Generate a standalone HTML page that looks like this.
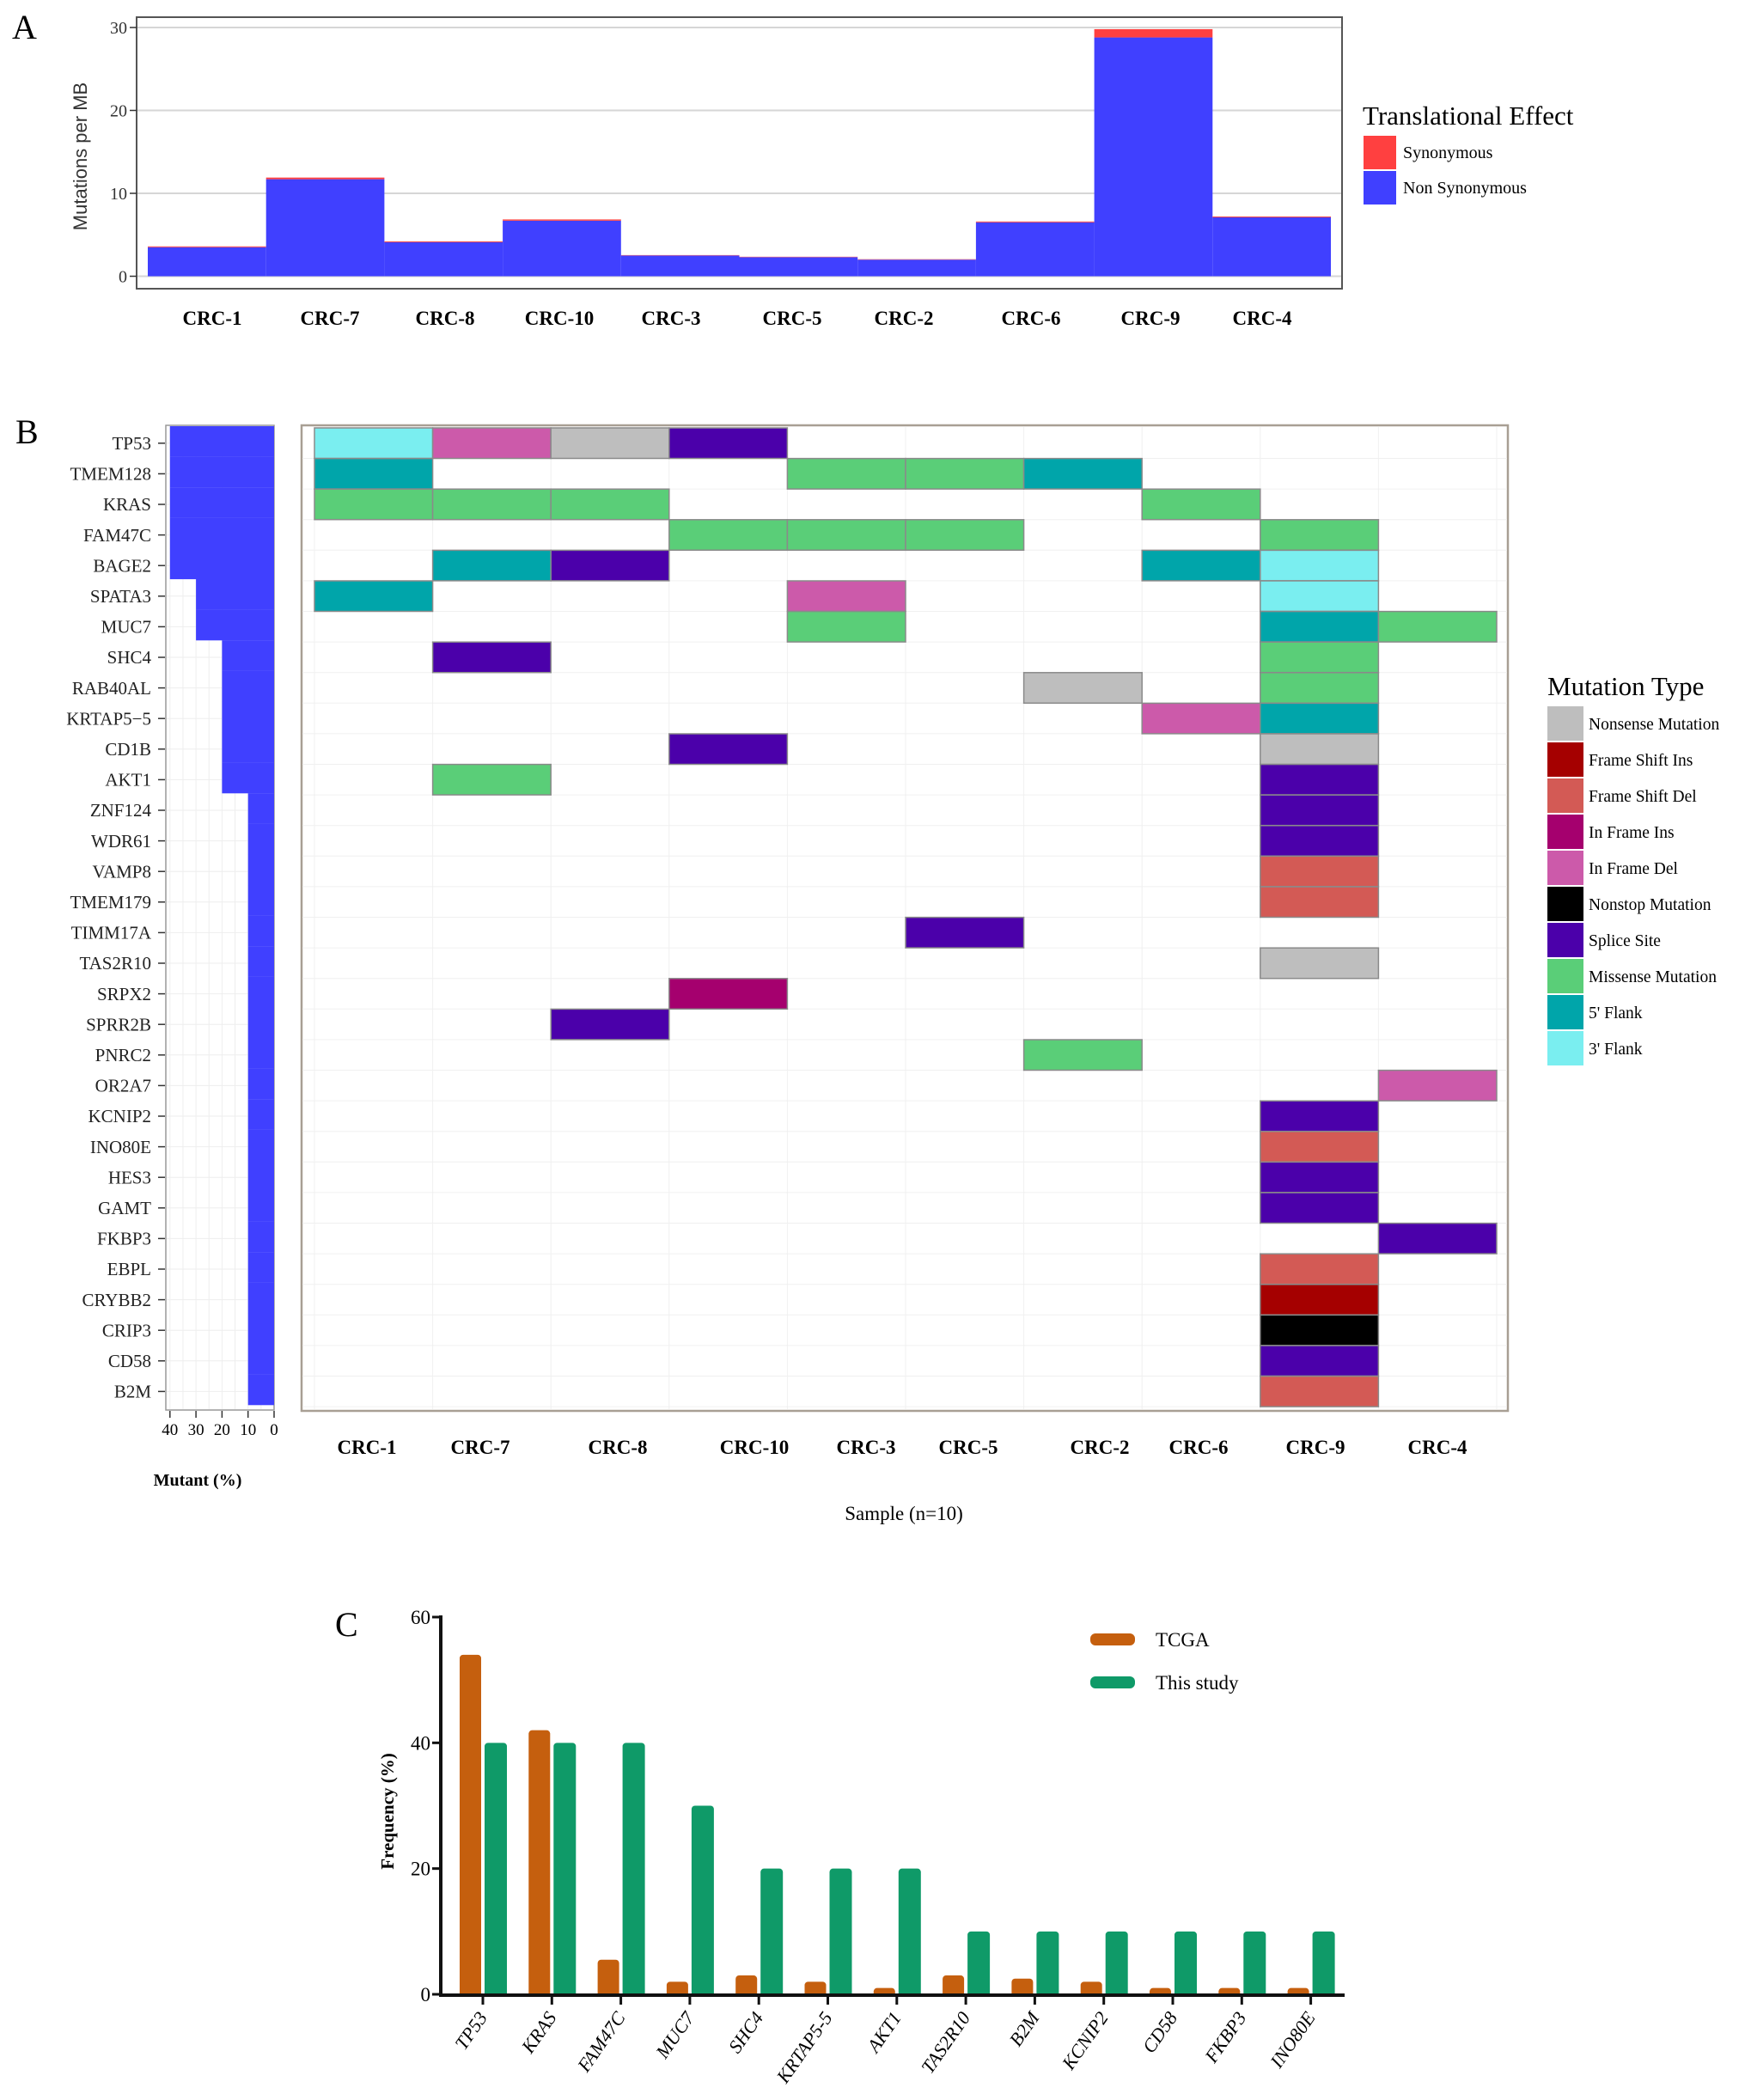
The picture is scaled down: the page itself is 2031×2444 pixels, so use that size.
<!DOCTYPE html>
<html><head><meta charset="utf-8"><style>
html,body{margin:0;padding:0;background:#fff;}
svg{display:block;font-family:"Liberation Serif",serif;}
</style></head><body>
<svg id="fig" width="2031" height="2444" viewBox="0 0 2031 2444" xmlns="http://www.w3.org/2000/svg">
<g id="pa"></g>
<g id="pb"></g>
<g id="pc"></g>
</svg>
<script>
// ---- Panel A data
const samplesA = ["CRC-1","CRC-7","CRC-8","CRC-10","CRC-3","CRC-5","CRC-2","CRC-6","CRC-9","CRC-4"];
const nonSyn = [3.5,11.7,4.1,6.7,2.5,2.3,2.0,6.5,28.8,7.1];
const syn = [0.1,0.2,0.1,0.15,0.05,0.05,0.05,0.1,1.0,0.1];
const ticksA = [0,10,20,30];
// ---- Panel B data
const genes = ["TP53","TMEM128","KRAS","FAM47C","BAGE2","SPATA3","MUC7","SHC4","RAB40AL","KRTAP5\u22125","CD1B","AKT1","ZNF124","WDR61","VAMP8","TMEM179","TIMM17A","TAS2R10","SRPX2","SPRR2B","PNRC2","OR2A7","KCNIP2","INO80E","HES3","GAMT","FKBP3","EBPL","CRYBB2","CRIP3","CD58","B2M"];
const mutantPct = [40,40,40,40,40,30,30,20,20,20,20,20,10,10,10,10,10,10,10,10,10,10,10,10,10,10,10,10,10,10,10,10];
const samplesB = ["CRC-1","CRC-7","CRC-8","CRC-10","CRC-3","CRC-5","CRC-2","CRC-6","CRC-9","CRC-4"];
const mutTypes = ["Nonsense Mutation","Frame Shift Ins","Frame Shift Del","In Frame Ins","In Frame Del","Nonstop Mutation","Splice Site","Missense Mutation","5' Flank","3' Flank"];
const mutColors = ["#bebebe","#a50000","#d35a55","#a5006e","#cc5aaa","#000000","#4b00aa","#5ace78","#00a5aa","#7aeef0"];
// each cell: [geneIndex, sampleIndex, typeIndex]
const cellGene =   [0,0,0,0, 1,1,1,1, 2,2,2,2, 3,3,3,3, 4,4,4,4, 5,5,5, 6,6,6, 7,7, 8,8, 9,9, 10,10, 11,11, 12,13,14,15,16,17,18,19,20,21,22,23,24,25,26,27,28,29,30,31];
const cellSample = [0,1,2,3, 0,4,5,6, 0,1,2,7, 3,4,5,8, 1,2,7,8, 0,4,8, 4,8,9, 1,8, 6,8, 7,8, 3,8, 1,8, 8,8,8,8,5,8,3,2,6,9,8,8,8,8,9,8,8,8,8,8];
const cellType =   [9,4,0,6, 8,7,7,8, 7,7,7,7, 7,7,7,7, 8,6,8,9, 8,4,9, 7,8,7, 6,7, 0,7, 4,8, 6,0, 7,6, 6,6,2,2,6,0,3,6,7,4,6,2,6,6,6,2,1,5,6,2];
const ticksPct = [40,30,20,10,0];
// ---- Panel C data
const genesC = ["TP53","KRAS","FAM47C","MUC7","SHC4","KRTAP5-5","AKT1","TAS2R10","B2M","KCNIP2","CD58","FKBP3","INO80E"];
const tcga = [54,42,5.5,2,3,2,1,3,2.5,2,1,1,1];
const thisStudy = [40,40,40,30,20,20,20,10,10,10,10,10,10];
const ticksC = [0,20,40,60];

const NS="http://www.w3.org/2000/svg";
function mk(parent,tag,attrs,text){const e=document.createElementNS(NS,tag);for(const k in attrs)e.setAttribute(k,attrs[k]);if(text!==undefined)e.textContent=text;parent.appendChild(e);return e;}

// ===== Panel A =====
(function(){
 const g=document.getElementById('pa');
 const x0=172,bw=137.7,yA=v=>321.5-v*9.65;
 let t=mk(g,'text',{x:14,y:45,'font-size':40},'A');
 
 
 let r=mk(g,'rect',{x:159,y:20,width:1403,height:316,fill:'#fff',stroke:'#555','stroke-width':2});
 
 
 ticksA.forEach(v=>{
  let l=mk(g,'line',{x1:160,x2:1561,y1:yA(v),y2:yA(v),stroke:'#d6d6d6','stroke-width':2});
  
  
  let tt=mk(g,'text',{x:148,y:yA(v)+7,'font-size':20,'text-anchor':'end',fill:'#333'},String(v));
  
  
  mk(g,'line',{x1:151,x2:159,y1:yA(v),y2:yA(v),stroke:'#333','stroke-width':1.5});
 });
 const lx=[247,384,518,651,781,922,1052,1200,1339,1469];
 samplesA.forEach((s,i)=>{
  let b=mk(g,'rect',{x:x0+i*bw,y:yA(nonSyn[i]),width:bw,height:yA(0)-yA(nonSyn[i]),fill:'#4040ff'});
  
  
  let b2=mk(g,'rect',{x:x0+i*bw,y:yA(nonSyn[i]+syn[i]),width:bw,height:yA(nonSyn[i])-yA(nonSyn[i]+syn[i]),fill:'#ff4040'});
  
  
  let tl=mk(g,'text',{x:lx[i],y:378,'font-size':23,'font-weight':'bold','text-anchor':'middle'},s);
  
  
 });
 let yt=mk(g,'text',{x:0,y:0,'font-size':22,'text-anchor':'middle',fill:'#333','font-family':'Liberation Sans, sans-serif',transform:'translate(101,182) rotate(-90)'},'Mutations per MB');
 
 
 let lt=mk(g,'text',{x:1586,y:145,'font-size':31},'Translational Effect');
 
 
 [['Synonymous','#ff4040',158],['Non Synonymous','#4040ff',199]].forEach(([n,c,y])=>{
  let s=mk(g,'rect',{x:1587,y:y,width:38,height:39,fill:c});
  
  
  let tx=mk(g,'text',{x:1633,y:y+26,'font-size':20},n);
  
  
 });
})();

// ===== Panel B =====
(function(){
 const g=document.getElementById('pb');
 const rowY=i=>498+i*35.6, rh=35.5;
 const pX=v=>319-v*3.03;
 let t=mk(g,'text',{x:18,y:516,'font-size':40},'B');
 
 
 // left bar panel
 let f=mk(g,'rect',{x:193,y:495,width:126,height:1146,fill:'#fff',stroke:'#999','stroke-width':1.5});
 
 
 for(let v=5;v<=40;v+=5){mk(g,'line',{x1:pX(v),x2:pX(v),y1:496,y2:1640,stroke:'#eee','stroke-width':1});}
 genes.forEach((gn,i)=>{
  mk(g,'line',{x1:194,x2:318,y1:rowY(i)+17.8,y2:rowY(i)+17.8,stroke:'#eee','stroke-width':1});
  let b=mk(g,'rect',{x:pX(mutantPct[i]),y:rowY(i)-2,width:pX(0)-pX(mutantPct[i]),height:35.7,fill:'#4040ff'});
  
  
  let tl=mk(g,'text',{x:176,y:rowY(i)+25,'font-size':21,'text-anchor':'end',fill:'#222'},gn);
  
  
  mk(g,'line',{x1:184,x2:192,y1:rowY(i)+17.8,y2:rowY(i)+17.8,stroke:'#333','stroke-width':1.5});
 });
 ticksPct.forEach(v=>{
  let tt=mk(g,'text',{x:pX(v),y:1670,'font-size':19,'text-anchor':'middle'},String(v));
  
  
  mk(g,'line',{x1:pX(v),x2:pX(v),y1:1642,y2:1650,stroke:'#333','stroke-width':1.5});
 });
 let mt=mk(g,'text',{x:230,y:1729,'font-size':20,'text-anchor':'middle','font-weight':'bold'},'Mutant (%)');
 
 
 // main grid
 let mf=mk(g,'rect',{x:351,y:495,width:1404,height:1147,fill:'#fff',stroke:'#a89f94','stroke-width':2.5});
 
 
 const cX=j=>366+j*137.6;
 for(let j=0;j<=10;j++)mk(g,'line',{x1:cX(j),x2:cX(j),y1:497,y2:1640,stroke:'#f0f0f0','stroke-width':1});
 genes.forEach((gn,i)=>mk(g,'line',{x1:352,x2:1754,y1:rowY(i)+rh,y2:rowY(i)+rh,stroke:'#f0f0f0','stroke-width':1}));
 cellGene.forEach((gi,k)=>{
  const c=mk(g,'rect',{x:cX(cellSample[k]),y:rowY(gi),width:137.6,height:rh,fill:mutColors[cellType[k]],stroke:'#8a8a8a','stroke-width':1.5});
  
  
 });
 const lx=[427,559,719,878,1008,1127,1280,1395,1531,1673];
 samplesB.forEach((s,j)=>{
  let tl=mk(g,'text',{x:lx[j],y:1692,'font-size':23,'font-weight':'bold','text-anchor':'middle'},s);
  
  
 });
 let st=mk(g,'text',{x:1052,y:1769,'font-size':23,'text-anchor':'middle'},'Sample (n=10)');
 
 
 let lt=mk(g,'text',{x:1801,y:809,'font-size':31},'Mutation Type');
 
 
 mutTypes.forEach((m,k)=>{
  const y=822+k*42;
  let s=mk(g,'rect',{x:1801,y:y,width:42,height:40,fill:mutColors[k]});
  
  
  let tx=mk(g,'text',{x:1849,y:y+27,'font-size':19.5},m);
  
  
 });
})();

// ===== Panel C =====
(function(){
 const g=document.getElementById('pc');
 const yC=v=>2321-v*7.317, gx=i=>535+i*80.3, bw=25;
 let t=mk(g,'text',{x:390,y:1904,'font-size':40},'C');
 
 
 genesC.forEach((gn,i)=>{
  let a=mk(g,'rect',{x:gx(i),y:yC(tcga[i]),width:bw,height:yC(0)-yC(tcga[i])+3,rx:4,fill:'#c55f0e'});
  
  
  let b=mk(g,'rect',{x:gx(i)+29,y:yC(thisStudy[i]),width:bw+1,height:yC(0)-yC(thisStudy[i])+3,rx:4,fill:'#0f9a68'});
  
  
  const cx=gx(i)+27;
  mk(g,'line',{x1:cx,x2:cx,y1:2321,y2:2333,stroke:'#111','stroke-width':3});
  let tl=mk(g,'text',{x:0,y:0,'font-size':22,'font-style':'italic','text-anchor':'end',transform:`translate(${cx+6},2348) rotate(-55)`},gn);
  
  
 });
 let ax=mk(g,'line',{x1:513,x2:1565,y1:2322,y2:2322,stroke:'#111','stroke-width':4});
 
 
 let ay=mk(g,'line',{x1:513,x2:513,y1:1880,y2:2324,stroke:'#111','stroke-width':4});
 
 
 ticksC.forEach(v=>{
  mk(g,'line',{x1:503,x2:513,y1:yC(v),y2:yC(v),stroke:'#111','stroke-width':3});
  let tt=mk(g,'text',{x:501,y:yC(v)+8,'font-size':23,'text-anchor':'end'},String(v));
  
  
 });
 let yt=mk(g,'text',{x:0,y:0,'font-size':21,'font-weight':'bold','text-anchor':'middle',transform:'translate(458,2108) rotate(-90)'},'Frequency (%)');
 
 
 [['TCGA','#c55f0e',1908],['This study','#0f9a68',1958]].forEach(([n,c,y])=>{
  let s=mk(g,'rect',{x:1269,y:y-7,width:52,height:14,rx:6,fill:c});
  
  
  let tx=mk(g,'text',{x:1345,y:y+8,'font-size':23},n);
  
  
 });
})();
</script>
</body></html>
